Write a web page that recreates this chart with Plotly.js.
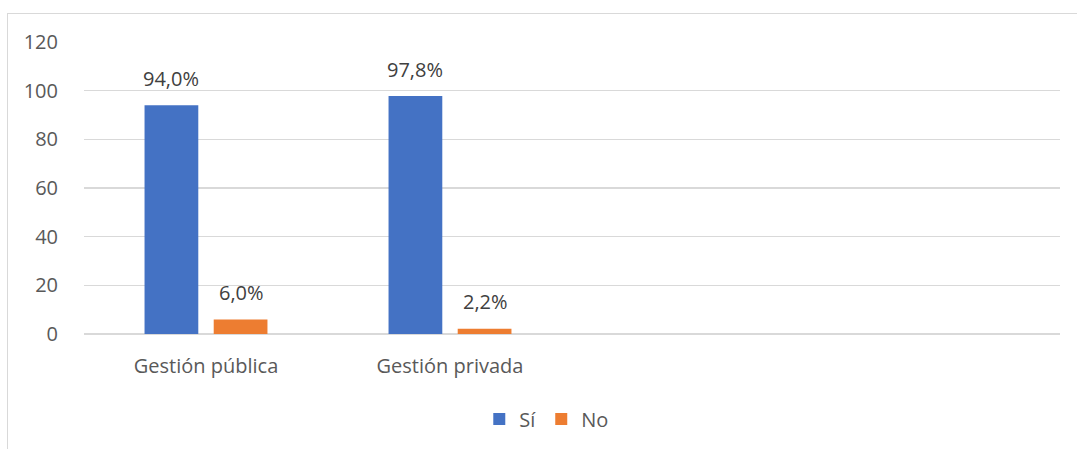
<!DOCTYPE html>
<html><head><meta charset="utf-8">
<script src="https://cdn.plot.ly/plotly-3.0.1.min.js"></script>
<style>
html,body{margin:0;padding:0;background:#fff;}
#wrap{position:relative;width:1077px;height:449px;overflow:hidden;}
#frame{position:absolute;left:7px;top:13px;width:1200px;height:600px;border-left:1.5px solid #d9d9d9;border-top:1.5px solid #d9d9d9;box-sizing:border-box;}
#chart{position:absolute;left:0;top:0;width:1077px;height:449px;}
</style></head>
<body><div id="wrap"><div id="frame"></div><div id="chart"></div></div>
<script>
const categories = ["Gestión pública", "Gestión privada"];
const siValues = [94.0, 97.8];
const noValues = [6.0, 2.2];
const seriesNames = ["Sí", "No"];
const yTicks = [0, 20, 40, 60, 80, 100, 120];

const fmt = v => v.toFixed(1).replace('.', ',') + '%';
const FS = 20;
const labelFont = {family: 'Open Sans, sans-serif', size: FS, color: '#404040'};

const traces = [
  {type:'bar', name:seriesNames[0], x:categories, y:siValues, marker:{color:'#4472c4'}, hoverinfo:'none'},
  {type:'bar', name:seriesNames[1], x:categories, y:noValues, marker:{color:'#ed7d31'}, hoverinfo:'none'}
];

// data labels placed through the axes (x category + offset within group)
const annotations = [];
[siValues, noValues].forEach((vals, s) => {
  vals.forEach((v, i) => {
    annotations.push({x:i, y:v, xref:'x', yref:'y', text:fmt(v), showarrow:false,
      xshift:(s === 0 ? -35 : 35), yshift:27, font:labelFont});
  });
});

const layout = {
  width:1077, height:449,
  margin:{l:84, r:17, t:42, b:114},
  paper_bgcolor:'rgba(0,0,0,0)', plot_bgcolor:'rgba(0,0,0,0)',
  barmode:'group', bargap:0.433, bargroupgap:0.223,
  font:{family:'Open Sans, sans-serif', size:FS, color:'#595959'},
  xaxis:{type:'category', range:[-0.5, 3.5], showgrid:false, zeroline:false, showline:false,
         ticks:'', ticklabelstandoff:18, tickfont:{size:FS, color:'#595959'}, automargin:false},
  yaxis:{range:[0,120], tickvals:yTicks, showgrid:true, gridcolor:'#d9d9d9', gridwidth:1.5,
         zeroline:true, zerolinecolor:'#d9d9d9', zerolinewidth:1.5, showline:false, ticks:'',
         ticklabelstandoff:25, tickfont:{size:FS, color:'#595959'}, automargin:false},
  annotations: annotations,
  showlegend:true,
  legend:{orientation:'h', x:0.405, xanchor:'left', y:-0.22, yanchor:'top',
          font:{size:FS, color:'#595959'}, itemwidth:30, tracegroupgap:0}
};

Plotly.newPlot('chart', traces, layout, {displayModeBar:false, staticPlot:true});
</script></body></html>
